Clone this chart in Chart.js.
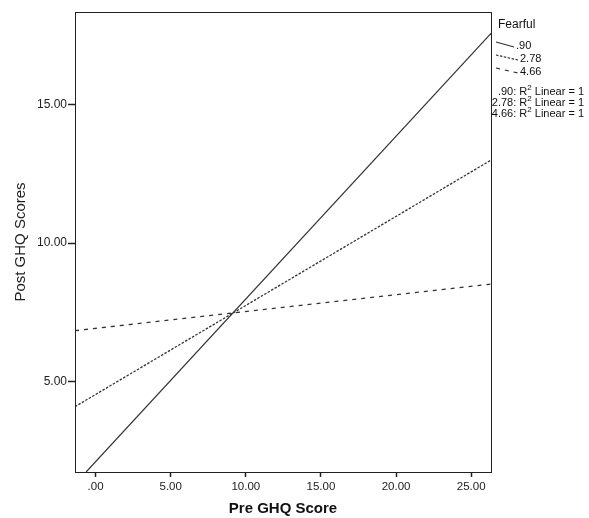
<!DOCTYPE html>
<html>
<head>
<meta charset="utf-8">
<script src="https://cdn.jsdelivr.net/npm/chart.js@4.4.1/dist/chart.umd.min.js"></script>
<style>
  html, body { margin: 0; padding: 0; background: #fff; }
  #wrap { width: 589px; height: 518px; position: relative; }
</style>
</head>
<body>
<div id="wrap"><canvas id="c" width="589" height="518"></canvas></div>
<script>
// fitted lines: two end points per line
var xRange = [-1.37, 26.32];
var yRange = [1.745, 18.33];
var xTicks = [0, 5, 10, 15, 20, 25];
var yTicks = [5, 10, 15];

var groups = [".90", "2.78", "4.66"];
var preScore = [[-0.63, 26.32], [-1.37, 26.32], [-1.37, 26.32]];
var postScore = [[1.745, 17.56], [4.10, 12.99], [6.84, 8.52]];
var dashes = [[], [2.5, 1.5], [4, 5]];

var INK = "#333";
var FONT = "'Liberation Sans', Arial, sans-serif";

function fmt(v) {
  var s = v.toFixed(2);
  return s.indexOf("0.") === 0 ? s.slice(1) : s;
}

var datasets = groups.map(function (g, i) {
  return {
    label: g,
    data: preScore[i].map(function (x, j) { return { x: x, y: postScore[i][j] }; }),
    showLine: true,
    borderColor: INK,
    borderWidth: i === 0 ? 1.2 : 1.3,
    borderDash: dashes[i],
    pointRadius: 0,
    fill: false
  };
});

// box round the plot + SPSS style legend on the right
var frame = {
  id: "frame",
  afterDraw: function (chart) {
    var a = chart.chartArea, ctx = chart.ctx;
    ctx.save();
    ctx.strokeStyle = "#222";
    ctx.lineWidth = 1;
    ctx.strokeRect(Math.round(a.left) + 0.5, Math.round(a.top) + 0.5,
      Math.round(a.right - a.left), Math.round(a.bottom - a.top));

    ctx.fillStyle = "#111";
    ctx.font = "12px " + FONT;
    ctx.textBaseline = "middle";
    ctx.textAlign = "left";
    ctx.fillText("Fearful", 498, 25);

    ctx.font = "11px " + FONT;
    var sy = [45, 58, 71];
    groups.forEach(function (g, i) {
      var end = i === 0 ? 514 : 518;
      ctx.strokeStyle = INK;
      ctx.lineWidth = 1.2;
      ctx.setLineDash(dashes[i]);
      ctx.beginPath();
      ctx.moveTo(496, sy[i] - 3);
      ctx.lineTo(end, sy[i] + 2);
      ctx.stroke();
      ctx.setLineDash([]);
      ctx.fillText(g, end + 2, sy[i] + 1);
    });

    ctx.textAlign = "right";
    var ry = [92, 103, 114];
    groups.forEach(function (g, i) {
      var tail = " Linear = 1";
      var right = 584;
      var wTail = ctx.measureText(tail).width;
      ctx.fillText(tail, right, ry[i]);
      ctx.font = "8px " + FONT;
      var w2 = ctx.measureText("2").width;
      ctx.fillText("2", right - wTail, ry[i] - 4);
      ctx.font = "11px " + FONT;
      ctx.fillText(g + ": R", right - wTail - w2, ry[i]);
    });
    ctx.restore();
  }
};

new Chart(document.getElementById("c").getContext("2d"), {
  type: "scatter",
  data: { datasets: datasets },
  plugins: [frame],
  options: {
    responsive: false,
    animation: false,
    layout: { padding: { top: 12, right: 98, left: 0, bottom: 0 } },
    plugins: { legend: { display: false }, tooltip: { enabled: false } },
    scales: {
      x: {
        type: "linear",
        min: xRange[0], max: xRange[1],
        afterBuildTicks: function (s) { s.ticks = xTicks.map(function (v) { return { value: v }; }); },
        afterFit: function (s) { s.height = 46; },
        grid: { display: true, drawOnChartArea: false, drawTicks: true, tickLength: 5, tickColor: "#222", tickWidth: 1.5 },
        border: { display: true, color: "#222" },
        ticks: { color: "#222", padding: 3, maxRotation: 0, font: { family: FONT, size: 11.5 }, callback: fmt },
        title: { display: true, text: "Pre GHQ Score", color: "#111", padding: { top: 4, bottom: 0 },
          font: { family: FONT, size: 15, weight: "bold" } }
      },
      y: {
        type: "linear",
        min: yRange[0], max: yRange[1],
        afterBuildTicks: function (s) { s.ticks = yTicks.map(function (v) { return { value: v }; }); },
        afterFit: function (s) { s.width = 75; },
        grid: { display: true, drawOnChartArea: false, drawTicks: true, tickLength: 7, tickColor: "#222", tickWidth: 1.5 },
        border: { display: true, color: "#222" },
        ticks: { color: "#222", padding: 1, font: { family: FONT, size: 12 }, callback: fmt },
        title: { display: true, text: "Post GHQ Scores", color: "#222", padding: { top: 12, bottom: 4 },
          font: { family: FONT, size: 15 } }
      }
    }
  }
});
</script>
</body>
</html>
